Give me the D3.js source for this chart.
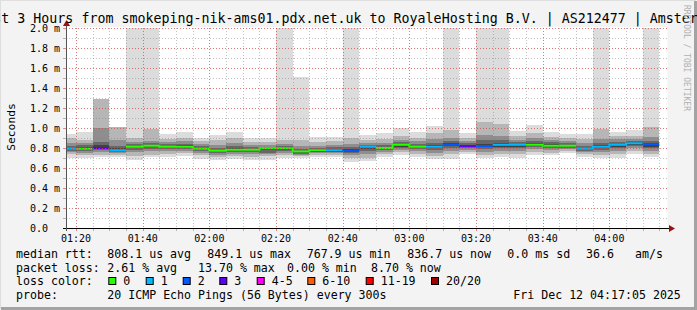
<!DOCTYPE html>
<html>
<head>
<meta charset="utf-8">
<script src="https://cdn.jsdelivr.net/npm/d3@7/dist/d3.min.js"></script>
<style>
	body { margin: 0; background: #f3f3f3; }
	svg { display: block; font-family: "DejaVu Sans Mono", monospace; }
</style>
</head>
<body>
<div id="chart"></div>
<script>
var title = "Last 3 Hours from smokeping-nik-ams01.pdx.net.uk to RoyaleHosting B.V. | AS212477 | Amsterdam"
var yLabel = "Seconds"
var timeStart = Date.UTC(2025, 11, 12, 1, 17, 5)
var timeEnd = Date.UTC(2025, 11, 12, 4, 17, 5)
var firstStepEnd = Date.UTC(2025, 11, 12, 1, 20, 0)
var stepMinutes = 5
var yTicks = [0.0, 0.2, 0.4, 0.6, 0.8, 1.0, 1.2, 1.4, 1.6, 1.8, 2.0]

// median rtt per 5 min step (ms) and lost pings out of 20
var median = [0.793, 0.793, 0.800, 0.777, 0.813, 0.823, 0.813, 0.813, 0.793, 0.773, 0.783, 0.783,
	0.797, 0.797, 0.765, 0.777, 0.777, 0.773, 0.813, 0.800, 0.833, 0.813, 0.813, 0.833,
	0.820, 0.820, 0.833, 0.833, 0.833, 0.823, 0.823, 0.793, 0.813, 0.833, 0.847, 0.837]
var lossPings = [1, 0, 3, 1, 0, 0, 0, 0, 0, 0, 0, 0,
	0, 0, 0, 0, 1, 2, 1, 0, 0, 0, 1, 2,
	3, 2, 1, 1, 0, 0, 0, 1, 1, 1, 1, 2]
// smoke bands, outer to inner (ms)
var smokeHi = [
	[0.94, 0.90, 0.85, 0.82, 0.805], [0.96, 0.88, 0.85, 0.83, 0.81], [1.29, 1.29, 1.00, 0.86, 0.83], [1.01, 1.01, 0.88, 0.82, 0.80],
	[2.0, 0.90, 0.86, 0.84, 0.825], [2.0, 0.99, 0.87, 0.85, 0.835], [0.94, 0.89, 0.86, 0.84, 0.825], [0.96, 0.90, 0.87, 0.845, 0.83],
	[0.90, 0.87, 0.84, 0.82, 0.805], [0.93, 0.88, 0.83, 0.80, 0.785], [0.96, 0.90, 0.85, 0.82, 0.80], [0.90, 0.86, 0.83, 0.81, 0.795],
	[0.90, 0.86, 0.83, 0.815, 0.805], [2.0, 0.88, 0.84, 0.82, 0.81], [1.51, 0.88, 0.82, 0.79, 0.775], [0.91, 0.86, 0.82, 0.80, 0.79],
	[0.91, 0.87, 0.83, 0.81, 0.79], [2.0, 0.90, 0.84, 0.81, 0.79], [0.93, 0.88, 0.85, 0.83, 0.825], [0.95, 0.89, 0.85, 0.83, 0.81],
	[1.00, 0.92, 0.88, 0.86, 0.845], [0.96, 0.90, 0.87, 0.84, 0.825], [1.02, 0.95, 0.89, 0.85, 0.83], [2.0, 0.98, 0.90, 0.87, 0.85],
	[0.95, 0.90, 0.87, 0.85, 0.835], [2.0, 1.06, 0.93, 0.88, 0.845], [2.0, 1.04, 0.92, 0.88, 0.855], [0.97, 0.92, 0.88, 0.86, 0.845],
	[1.03, 0.95, 0.90, 0.87, 0.85], [0.96, 0.91, 0.88, 0.86, 0.84], [0.94, 0.90, 0.87, 0.85, 0.835], [0.94, 0.89, 0.85, 0.82, 0.805],
	[2.0, 0.99, 0.89, 0.85, 0.83], [0.96, 0.92, 0.89, 0.86, 0.845], [0.98, 0.92, 0.89, 0.87, 0.86], [2.0, 1.01, 0.91, 0.87, 0.85]
]
var smokeLo = [
	[0.70, 0.74, 0.76, 0.77, 0.78], [0.70, 0.73, 0.75, 0.77, 0.78], [0.71, 0.73, 0.76, 0.78, 0.79], [0.71, 0.73, 0.75, 0.76, 0.77],
	[0.68, 0.72, 0.76, 0.78, 0.80], [0.71, 0.73, 0.77, 0.79, 0.81], [0.71, 0.74, 0.77, 0.79, 0.80], [0.72, 0.75, 0.77, 0.79, 0.80],
	[0.69, 0.73, 0.75, 0.77, 0.78], [0.68, 0.71, 0.73, 0.75, 0.76], [0.69, 0.72, 0.74, 0.76, 0.77], [0.68, 0.71, 0.74, 0.76, 0.77],
	[0.68, 0.72, 0.74, 0.755, 0.78], [0.70, 0.73, 0.75, 0.77, 0.78], [0.70, 0.72, 0.73, 0.74, 0.75], [0.71, 0.73, 0.75, 0.76, 0.765],
	[0.71, 0.73, 0.75, 0.76, 0.765], [0.66, 0.70, 0.73, 0.75, 0.76], [0.67, 0.70, 0.74, 0.77, 0.79], [0.71, 0.74, 0.76, 0.78, 0.79],
	[0.73, 0.76, 0.78, 0.80, 0.815], [0.71, 0.74, 0.77, 0.79, 0.80], [0.69, 0.72, 0.75, 0.78, 0.80], [0.69, 0.74, 0.77, 0.80, 0.82],
	[0.74, 0.76, 0.78, 0.80, 0.81], [0.70, 0.73, 0.76, 0.79, 0.81], [0.71, 0.74, 0.77, 0.80, 0.815], [0.70, 0.74, 0.77, 0.80, 0.815],
	[0.73, 0.76, 0.79, 0.81, 0.82], [0.73, 0.75, 0.78, 0.80, 0.81], [0.75, 0.77, 0.79, 0.80, 0.81], [0.71, 0.74, 0.76, 0.77, 0.78],
	[0.70, 0.73, 0.76, 0.78, 0.80], [0.70, 0.74, 0.77, 0.80, 0.815], [0.74, 0.77, 0.80, 0.82, 0.835], [0.71, 0.74, 0.77, 0.80, 0.815]
]

var lossLabels = ["0", "1", "2", "3", "4-5", "6-10", "11-19", "20/20"]
var lossColors = ["#26ff00", "#00b8ff", "#0059ff", "#5e00ff", "#ff00f5", "#ff5e00", "#ff0000", "#a10000"]
var rttLegend = ["median rtt:", "808.1 us avg", "849.1 us max", "767.9 us min", "836.7 us now", "0.0 ms sd", "36.6", "am/s"]
var lossLegend = ["packet loss:", "2.61 % avg", "13.70 % max", "0.00 % min", "8.70 % now"]
var probeLegend = ["probe:", "20 ICMP Echo Pings (56 Bytes) every 300s", "Fri Dec 12 04:17:05 2025"]
var watermark = "RRDTOOL / TOBI OETIKER"

var W = 697, H = 310
var plot = {left: 66.3, right: 666.3, top: 28, bottom: 228}
var bandColors = ["#dcdcdc", "#b6b6b6", "#8e8e8e", "#676767", "#424242"]

function lossBucket(n) {
	if (n <= 3) return n
	if (n <= 5) return 4
	if (n <= 10) return 5
	if (n <= 19) return 6
	return 7
}

var svg = d3.select("#chart").append("svg").attr("width", W).attr("height", H)
svg.append("rect").attr("width", W).attr("height", H).attr("fill", "#f3f3f3")
// frame shading
svg.append("path").attr("d", "M0,309 L0,0 L696,0").attr("fill", "none").attr("stroke", "#dedede").attr("stroke-width", 2)
svg.append("path").attr("d", "M1,308.5 L695.5,308.5 L695.5,1").attr("fill", "none").attr("stroke", "#a3a3a3").attr("stroke-width", 3)

var x = d3.scaleUtc().domain([timeStart, timeEnd]).range([plot.left, plot.right])
var y = d3.scaleLinear().domain([0, 2.0]).range([plot.bottom, plot.top])

svg.append("rect").attr("x", 66).attr("y", 27).attr("width", 601.5).attr("height", 201).attr("fill", "#ffffff")

svg.append("defs").append("clipPath").attr("id", "clip")
	.append("rect").attr("x", plot.left).attr("y", plot.top).attr("width", plot.right - plot.left).attr("height", plot.bottom - plot.top)

var steps = median.map((m, i) => {
	var end = firstStepEnd + i * stepMinutes * 60000
	return {i, start: end - stepMinutes * 60000, end, median: m, loss: lossPings[i], hi: smokeHi[i], lo: smokeLo[i]}
})

var data = svg.append("g").attr("clip-path", "url(#clip)")
bandColors.forEach((c, k) => {
	data.selectAll("rect.band" + k)
		.data(steps)
		.enter()
		.append("rect")
		.attr("class", "band" + k)
		.attr("x", (d) => x(d.start))
		.attr("width", (d) => x(d.end) - x(d.start))
		.attr("y", (d) => y(d.hi[k]))
		.attr("height", (d) => y(d.lo[k]) - y(d.hi[k]))
		.attr("fill", c)
		.attr("shape-rendering", "crispEdges")
})

// median line split into runs of the same loss colour
var runs = []
steps.forEach((d) => {
	var b = lossBucket(d.loss)
	var last = runs[runs.length - 1]
	if (last && last.bucket == b) last.points.push(d)
	else runs.push({bucket: b, points: [d]})
})
var medianLine = d3.line()
	.x((p) => x(p.t))
	.y((p) => y(p.v))
	.curve(d3.curveStepAfter)
data.selectAll("path.median")
	.data(runs)
	.enter()
	.append("path")
	.attr("class", "median")
	.attr("d", (r) => {
		var pts = r.points.map((d) => ({t: d.start, v: d.median}))
		var lastP = r.points[r.points.length - 1]
		pts.push({t: lastP.end, v: lastP.median})
		return medianLine(pts)
	})
	.attr("fill", "none")
	.attr("stroke", (r) => lossColors[r.bucket])
	.attr("stroke-width", 2)

// grid on top
var grid = svg.append("g").attr("shape-rendering", "crispEdges")
var minorX = d3.utcMinute.every(5).range(new Date(timeStart), new Date(timeEnd))
var majorX = d3.utcMinute.every(20).range(new Date(timeStart), new Date(timeEnd))
var minorY = d3.range(1, 21).map((v) => v / 10)
grid.selectAll("line.vminor").data(minorX).enter().append("line")
	.attr("x1", (d) => Math.round(x(d)) + 0.5).attr("x2", (d) => Math.round(x(d)) + 0.5)
	.attr("y1", plot.top).attr("y2", plot.bottom)
	.attr("stroke", "rgba(120,120,120,0.45)").attr("stroke-dasharray", "1,2")
grid.selectAll("line.hminor").data(minorY).enter().append("line")
	.attr("x1", plot.left).attr("x2", plot.right + 1)
	.attr("y1", (d) => Math.round(y(d)) + 0.5).attr("y2", (d) => Math.round(y(d)) + 0.5)
	.attr("stroke", "rgba(120,120,120,0.45)").attr("stroke-dasharray", "1,2")
grid.selectAll("line.vmajor").data(majorX).enter().append("line")
	.attr("x1", (d) => Math.round(x(d)) + 0.5).attr("x2", (d) => Math.round(x(d)) + 0.5)
	.attr("y1", plot.top).attr("y2", plot.bottom)
	.attr("stroke", "rgba(240,60,60,0.55)").attr("stroke-dasharray", "1,2")
grid.selectAll("line.hmajor").data(yTicks.filter((v) => v > 0)).enter().append("line")
	.attr("x1", plot.left).attr("x2", plot.right + 1)
	.attr("y1", (d) => Math.round(y(d)) + 0.5).attr("y2", (d) => Math.round(y(d)) + 0.5)
	.attr("stroke", "rgba(240,60,60,0.55)").attr("stroke-dasharray", "1,2")

// axis ticks
grid.selectAll("line.xtick").data(minorX).enter().append("line")
	.attr("x1", (d) => Math.round(x(d)) + 0.5).attr("x2", (d) => Math.round(x(d)) + 0.5)
	.attr("y1", plot.bottom).attr("y2", plot.bottom + 3)
	.attr("stroke", (d) => d.getUTCMinutes() % 20 == 0 ? "rgba(240,60,60,0.6)" : "rgba(120,120,120,0.5)")
grid.selectAll("line.ytick").data(minorY).enter().append("line")
	.attr("x1", plot.left - 3).attr("x2", plot.left)
	.attr("y1", (d) => Math.round(y(d)) + 0.5).attr("y2", (d) => Math.round(y(d)) + 0.5)
	.attr("stroke", (d) => Math.round(d * 10) % 2 == 0 ? "rgba(240,60,60,0.6)" : "rgba(120,120,120,0.5)")

// axes with arrows
svg.append("line").attr("x1", 63).attr("x2", 670).attr("y1", 228.5).attr("y2", 228.5).attr("stroke", "#000")
svg.append("line").attr("x1", 66.5).attr("x2", 66.5).attr("y1", 231).attr("y2", 23).attr("stroke", "#555")
svg.append("path").attr("d", "M669,225 L675,228.5 L669,232 Z").attr("fill", "#9a1010")
svg.append("path").attr("d", "M63,26 L66.5,20 L70,26 Z").attr("fill", "#9a1010")

// labels
svg.selectAll("text.ylab").data(yTicks).enter().append("text")
	.attr("x", 30).attr("y", (d) => y(d) + 3.8)
	.attr("font-size", "10px")
	.text((d) => d == 0 ? "0.0" : d3.format(".1f")(d) + " m")
svg.selectAll("text.xlab").data(majorX).enter().append("text")
	.attr("x", (d) => x(d)).attr("y", 241.5)
	.attr("text-anchor", "middle").attr("font-size", "10px")
	.text(d3.utcFormat("%H:%M"))
svg.append("text")
	.attr("transform", "translate(15,127) rotate(-90)")
	.attr("text-anchor", "middle").attr("font-size", "11.3px")
	.text(yLabel)
svg.append("text")
	.attr("x", -22.7).attr("y", 23)
	.attr("font-size", "13.3px")
	.text(title)
svg.append("text")
	.attr("transform", "translate(684,5) rotate(90)")
	.attr("font-size", "8px").attr("fill", "#b0b0b0")
	.text(watermark)

var legend = svg.append("g").attr("font-size", "11.6px").attr("xml:space", "preserve")
var rttX = [16, 107.3, 207.3, 306.7, 407.3, 507.3, 586, 635]
rttLegend.forEach((t, i) => legend.append("text").attr("x", rttX[i]).attr("y", 258.3).text(t))
var lossX = [16, 107.3, 198, 287, 371]
lossLegend.forEach((t, i) => legend.append("text").attr("x", lossX[i]).attr("y", 271.7).text(t))
legend.append("text").attr("x", 16).attr("y", 285.3).text("loss color:")
var boxX = [108.3, 145.7, 182.7, 219.3, 256.7, 307.3, 365.7, 431]
lossLabels.forEach((t, i) => {
	legend.append("rect").attr("x", boxX[i] + 0.5).attr("y", 277.5).attr("width", 7).attr("height", 7)
		.attr("fill", lossColors[i]).attr("stroke", "#000")
	legend.append("text").attr("x", boxX[i] + 15).attr("y", 285.3).text(t)
})
var probeX = [16, 107.3, 513.3]
probeLegend.forEach((t, i) => legend.append("text").attr("x", probeX[i]).attr("y", 299).text(t))
</script>
</body>
</html>
